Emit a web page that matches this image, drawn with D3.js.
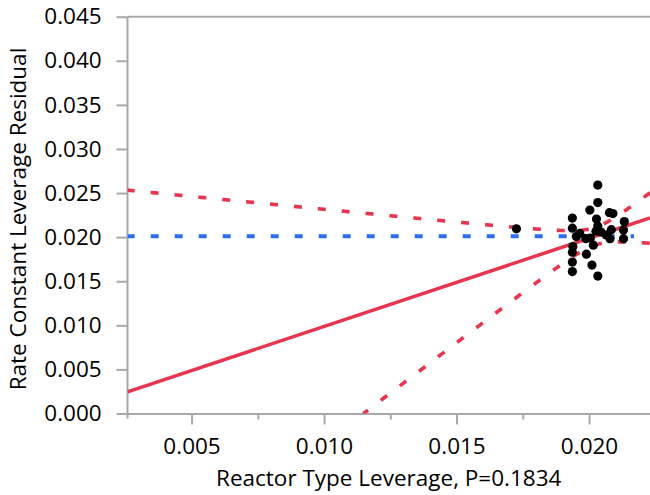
<!DOCTYPE html>
<html>
<head>
<meta charset="utf-8">
<script src="https://cdn.jsdelivr.net/npm/d3@7"></script>
<style>
  html, body { margin: 0; padding: 0; background: #fff; }
  svg { display: block; }
  text { font-family: "Open Sans", "Noto Sans", sans-serif; fill: #000; }
</style>
</head>
<body>
<svg id="chart" width="650" height="495"></svg>
<script>
// Leverage points: x = Reactor Type leverage, y = Rate Constant leverage residual
const leverageX = [
  0.01726, 0.02033, 0.02033, 0.02003, 0.02077, 0.02090, 0.02028, 0.02133,
  0.02130, 0.01937, 0.01937, 0.02084, 0.02065, 0.02079, 0.01988, 0.02005,
  0.01952, 0.02130, 0.01939, 0.01937, 0.01937, 0.01937, 0.01990, 0.02016,
  0.02011, 0.02033, 0.02033, 0.02045, 0.01965, 0.02026
];
const residualY = [
  0.02094, 0.02590, 0.02392, 0.02307, 0.02278, 0.02267, 0.02205, 0.02176,
  0.02080, 0.02216, 0.02102, 0.02085, 0.02023, 0.01983, 0.01983, 0.01989,
  0.02006, 0.01983, 0.01893, 0.01830, 0.01717, 0.01609, 0.01807, 0.01909,
  0.01683, 0.01558, 0.02125, 0.02057, 0.02042, 0.02068
];

// Fit: slope-1 leverage line through the means, with its confidence curves
const fitMeanX = 0.02023;
const fitMeanY = 0.0201;
const fitSlope = 1;
const bandAtMean = 0.001;   // half-width of the confidence band at the mean
const bandSpread = 1.295;   // growth of the band away from the mean
const meanLineEndX = 0.0217;

// Axes
const xDomain = [0.002583, 0.0223];
const yDomain = [0, 0.045];
const xTicks = [0.005, 0.010, 0.015, 0.020];
const xMinorTicks = [0.0075, 0.0125, 0.0175];
const yTicks = [0, 0.005, 0.010, 0.015, 0.020, 0.025, 0.030, 0.035, 0.040, 0.045];
const xTitle = "Reactor Type Leverage, P=0.1834";
const yTitle = "Rate Constant Leverage Residual";

const svg = d3.select("#chart");
const plotLeft = 127.5, plotRight = 650, plotTop = 16.7, plotBottom = 413.5;
const axisColor = "#a8a8a8";
const red = "#e8344e";
const blue = "#2e6ff0";
const fontSize = 22.5;

const x = d3.scaleLinear().domain(xDomain).range([plotLeft, plotRight]);
const y = d3.scaleLinear().domain(yDomain).range([plotBottom, plotTop]);

svg.append("defs").append("clipPath").attr("id", "plot-clip")
  .append("rect").attr("x", plotLeft).attr("y", plotTop)
  .attr("width", plotRight - plotLeft).attr("height", plotBottom - plotTop);

// Top border
svg.append("line")
  .attr("x1", plotLeft).attr("x2", plotRight).attr("y1", plotTop).attr("y2", plotTop)
  .attr("stroke", axisColor).attr("stroke-width", 2);

// X axis
svg.append("g").attr("transform", `translate(0,${plotBottom})`)
  .call(d3.axisBottom(x).tickValues(xTicks).tickFormat(d3.format(".3f"))
    .tickSize(11).tickPadding(13.5).tickSizeOuter(0));
svg.append("g").attr("transform", `translate(0,${plotBottom})`)
  .call(d3.axisBottom(x).tickValues(xMinorTicks).tickFormat("")
    .tickSize(6).tickSizeOuter(0))
  .call(g => g.select(".domain").remove());

// Y axis
const yAxis = svg.append("g").attr("transform", `translate(${plotLeft},0)`)
  .call(d3.axisLeft(y).tickValues(yTicks).tickFormat(d3.format(".3f"))
    .tickSize(11).tickPadding(14.8).tickSizeOuter(0));

svg.selectAll(".domain, .tick line")
  .attr("stroke", axisColor).attr("stroke-width", 2);
svg.selectAll(".tick text")
  .style("font-family", '"Open Sans", "Noto Sans", sans-serif')
  .style("font-size", fontSize + "px").attr("fill", "#000");
// extend the y axis line slightly below the x axis
yAxis.select(".domain").attr("d", `M0,${plotTop}V${plotBottom + 5}`);

// Axis titles
svg.append("text")
  .attr("x", (plotLeft + plotRight) / 2).attr("y", 486)
  .attr("text-anchor", "middle")
  .style("font-size", fontSize + "px")
  .text(xTitle);
svg.append("text")
  .attr("transform", `translate(25.5,219) rotate(-90)`)
  .attr("text-anchor", "middle")
  .style("font-size", fontSize + "px")
  .text(yTitle);

const plot = svg.append("g").attr("clip-path", "url(#plot-clip)");

// Mean line
plot.append("line")
  .attr("x1", x(xDomain[0])).attr("x2", x(meanLineEndX))
  .attr("y1", y(fitMeanY)).attr("y2", y(fitMeanY))
  .attr("stroke", blue).attr("stroke-width", 3.8)
  .attr("stroke-dasharray", "8,16").attr("stroke-dashoffset", 0.8);

// Fitted line and confidence curves
const fit = v => fitMeanY + fitSlope * (v - fitMeanX);
const half = v => Math.sqrt(bandAtMean * bandAtMean +
  bandSpread * bandSpread * (v - fitMeanX) * (v - fitMeanX));
const upper = v => fit(v) + half(v);
const lower = v => fit(v) - half(v);
const samples = d3.range(0, 801).map(i => xDomain[0] + (xDomain[1] - xDomain[0]) * i / 800);
const curve = (f, pts) => d3.line().x(v => x(v)).y(v => y(f(v)))(pts);

plot.append("path").attr("d", curve(upper, samples))
  .attr("fill", "none").attr("stroke", red).attr("stroke-width", 3.6)
  .attr("stroke-dasharray", "8,16").attr("stroke-dashoffset", 0.8);
// lower curve starts where it enters the plot at the x axis
plot.append("path").attr("d", curve(lower, samples.filter(v => lower(v) >= -0.00005)))
  .attr("fill", "none").attr("stroke", red).attr("stroke-width", 3.6)
  .attr("stroke-dasharray", "8,16").attr("stroke-dashoffset", 2);
plot.append("line")
  .attr("x1", x(xDomain[0])).attr("y1", y(fit(xDomain[0])))
  .attr("x2", x(xDomain[1])).attr("y2", y(fit(xDomain[1])))
  .attr("stroke", red).attr("stroke-width", 3.5);

// Points
plot.selectAll("circle.pt")
  .data(leverageX.map((v, i) => [v, residualY[i]]))
  .join("circle").attr("class", "pt")
  .attr("cx", d => x(d[0])).attr("cy", d => y(d[1]))
  .attr("r", 4.6).attr("fill", "#000");
</script>
</body>
</html>
